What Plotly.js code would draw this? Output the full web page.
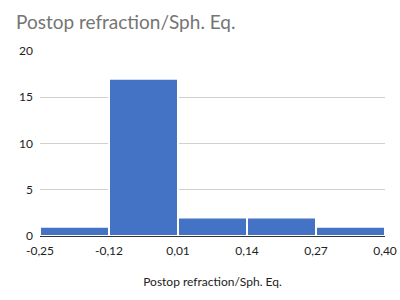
<!DOCTYPE html>
<html><head><meta charset="utf-8">
<script src="https://cdn.plot.ly/plotly-3.0.1.min.js"></script>
<style>html,body{margin:0;padding:0;background:#fff}#c{width:400px;height:300px}</style>
</head><body><div id="c"></div>
<script>
var binEdges = [-0.25, -0.12, 0.01, 0.14, 0.27, 0.40];
var edgeLabels = ["-0,25", "-0,12", "0,01", "0,14", "0,27", "0,40"];
var counts = [1, 17, 2, 2, 1];
var yTicks = [0, 5, 10, 15, 20];

var centers = [], widths = [];
for (var i = 0; i < counts.length; i++) {
  centers.push((binEdges[i] + binEdges[i+1]) / 2);
  widths.push(binEdges[i+1] - binEdges[i]);
}

var font = "Lato, 'Open Sans', sans-serif";
Plotly.newPlot('c', [{
  type: 'bar', x: centers, y: counts, width: widths,
  marker: {color: '#4472C4', line: {color: '#ffffff', width: 2}},
  hoverinfo: 'none'
}], {
  width: 400, height: 300,
  margin: {l: 40, r: 15, t: 51, b: 64},
  paper_bgcolor: '#fff', plot_bgcolor: '#fff',
  showlegend: false,
  font: {family: font, size: 12, color: '#222'},
  title: {text: 'Postop refraction/Sph. Eq.', x: 0.04, xanchor: 'left', y: 0.925, yanchor: 'middle',
          font: {family: font, size: 19, color: '#757575'}},
  xaxis: {range: [binEdges[0], binEdges[binEdges.length-1]], tickvals: binEdges, ticktext: edgeLabels,
          showgrid: false, zeroline: false, showline: true, linecolor: '#333', linewidth: 1,
          ticks: '', ticklabelstandoff: 4, tickfont: {size: 12, color: '#222'},
          title: {text: 'Postop refraction/Sph. Eq.', standoff: 20, font: {size: 12, color: '#222'}}},
  yaxis: {range: [0, 20], tickvals: yTicks, showgrid: true, gridcolor: '#d0d0d0', zeroline: false,
          showline: false, ticks: '', ticklabelstandoff: 6, tickfont: {size: 12, color: '#222'}}
}, {displayModeBar: false, staticPlot: true});
</script></body></html>
